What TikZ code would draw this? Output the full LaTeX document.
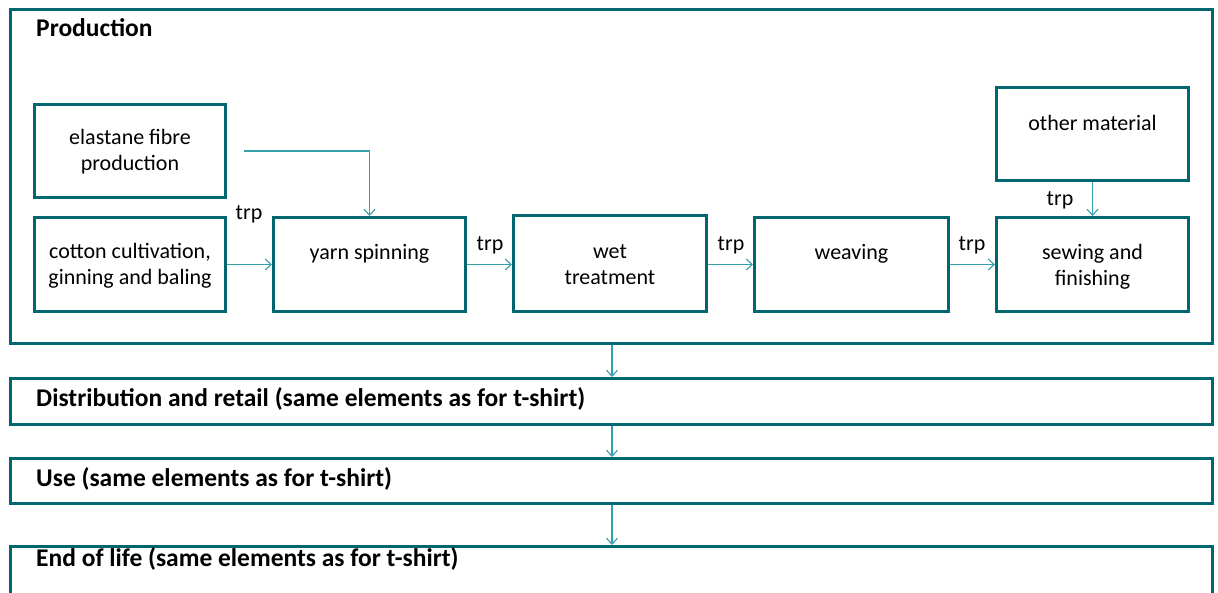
\documentclass[tikz,border=0pt]{standalone}
\usepackage{fontspec}
\setmainfont{Carlito}
\usetikzlibrary{arrows.meta,calc}
\definecolor{frame}{RGB}{0,102,112}
\definecolor{flow}{RGB}{52,160,170}
\begin{document}
\begin{tikzpicture}[x=1pt,y=-1pt,
  box/.style={draw=frame,line width=3pt,rectangle,inner sep=0pt},
  stage/.style={box},
  txt/.style={anchor=north,inner sep=0pt,align=center,font=\fontsize{22}{26}\selectfont},
  head/.style={anchor=base west,inner sep=0pt,font=\fontsize{25.5}{30}\selectfont\bfseries},
  trplbl/.style={anchor=base,inner sep=0pt,font=\fontsize{22}{26}\selectfont},
  flowarrow/.style={draw=flow,line width=1.3pt,-{Straight Barb[length=6pt,width=11pt,line width=1.1pt]}}]
\useasboundingbox (0,0) rectangle (1218,592);

% life-cycle stages
\node[stage,minimum width=1202pt,minimum height=334pt] (prod) at (611.5,176.5) {};
\node[stage,minimum width=1202pt,minimum height=46pt] (dist) at (611.5,401.5) {};
\node[stage,minimum width=1202pt,minimum height=45pt] (use) at (611.5,481) {};
\node[stage,minimum width=1202pt,minimum height=80pt] (eol) at (611.5,586.5) {};

\node[head] (hprod) at (36,36) {Production};
\node[head] (hdist) at (36,406) {Distribution and retail (same elements as for t-shirt)};
\node[head] (huse) at (36,486) {Use (same elements as for t-shirt)};
\node[head] (heol) at (36,566) {End of life (same elements as for t-shirt)};

% production steps
\node[box,minimum width=191pt,minimum height=93pt] (elast) at (130,151) {};
\node[box,minimum width=191pt,minimum height=94pt] (cotton) at (130,264.5) {};
\node[box,minimum width=192pt,minimum height=94pt] (yarn) at (369.5,264.5) {};
\node[box,minimum width=193pt,minimum height=96pt] (wet) at (610,263.5) {};
\node[box,minimum width=194pt,minimum height=94pt] (weave) at (851.5,264.5) {};
\node[box,minimum width=192pt,minimum height=94pt] (sew) at (1092.5,264.5) {};
\node[box,minimum width=192pt,minimum height=93pt] (other) at (1092.5,134) {};

\node[txt] at ($(elast.north)+(0,23)$) {\strut elastane fibre\\production};
\node[txt] at ($(cotton.north)+(0,24)$) {\strut cotton cultivation,\\ginning and baling};
\node[txt] at ($(yarn.north)+(0,25)$) {\strut yarn spinning};
\node[txt] at ($(wet.north)+(0,26)$) {\strut wet\\treatment};
\node[txt] at ($(weave.north)+(0,25)$) {\strut weaving};
\node[txt] at ($(sew.north)+(0,25)$) {\strut sewing and\\finishing};
\node[txt] at ($(other.north)+(0,26)$) {\strut other material};

% transport flows
\coordinate (elastout) at (244,151);
\draw[flowarrow] (elastout) -| (yarn.north);
\draw[flowarrow] (cotton.east) -- (yarn.west);
\draw[flowarrow] (yarn.east) -- (wet.west |- yarn.east);
\draw[flowarrow] (wet.east |- weave.west) -- (weave.west);
\draw[flowarrow] (weave.east) -- (sew.west);
\draw[flowarrow] (other.south) -- (sew.north);

\node[trplbl] (t1) at (249,219) {trp};
\node[trplbl] (t2) at (490,250) {trp};
\node[trplbl] (t3) at (731,250) {trp};
\node[trplbl] (t4) at (972,250) {trp};
\node[trplbl] (t5) at (1060,205) {trp};

% stage sequence
\draw[flowarrow] (prod.south -| 612,0) -- (dist.north -| 612,0);
\draw[flowarrow] (dist.south -| 612,0) -- (use.north -| 612,0);
\draw[flowarrow] (use.south -| 612,0) -- (eol.north -| 612,0);
\end{tikzpicture}
\end{document}
